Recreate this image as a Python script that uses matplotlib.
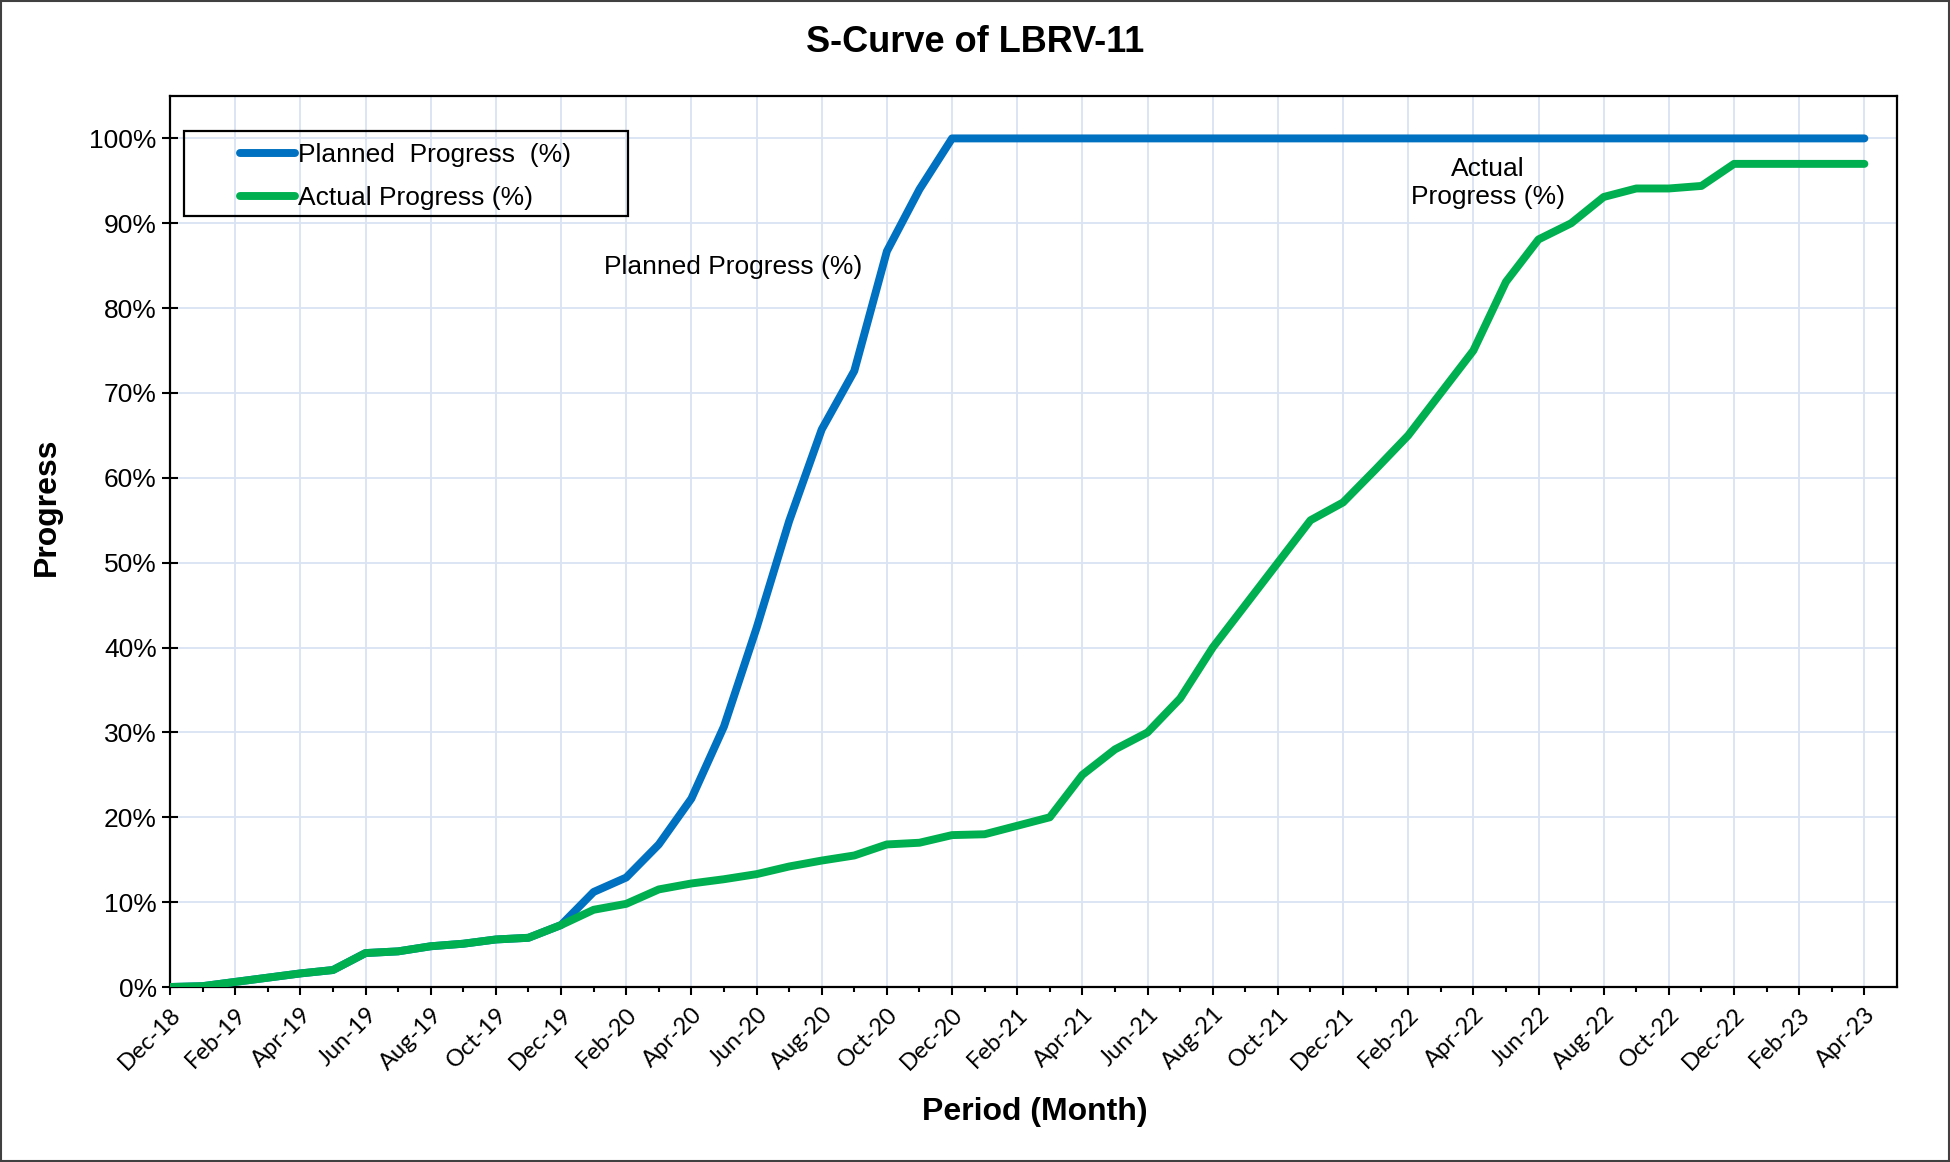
import matplotlib
matplotlib.use("Agg")
import matplotlib.pyplot as plt
from matplotlib.patches import Rectangle
from matplotlib.ticker import MultipleLocator, FixedLocator, PercentFormatter
import numpy as np
import pandas as pd

# monthly periods Dec-18 .. Apr-23
months = pd.date_range("2018-12-01", periods=53, freq="MS").strftime("%b-%y").tolist()

planned = [0.0, 0.1, 0.6, 1.1, 1.6, 2.0, 4.0, 4.2, 4.8, 5.1, 5.6, 5.8, 7.3,
           11.2, 12.9, 16.8, 22.2, 30.7, 42.3, 54.9, 65.7, 72.6, 86.7, 94.0,
           100, 100, 100, 100, 100, 100, 100, 100, 100, 100, 100, 100, 100,
           100, 100, 100, 100, 100, 100, 100, 100, 100, 100, 100, 100, 100,
           100, 100, 100]
actual = [0.0, 0.1, 0.6, 1.1, 1.6, 2.0, 4.0, 4.2, 4.8, 5.1, 5.6, 5.8, 7.3,
          9.1, 9.8, 11.5, 12.2, 12.7, 13.3, 14.2, 14.9, 15.5, 16.8, 17.0,
          17.9, 18.0, 19.0, 20.0, 25.0, 28.0, 30.0, 34.0, 40.0, 45.0, 50.0,
          55.0, 57.1, 61.0, 65.0, 70.0, 75.0, 83.1, 88.1, 90.0, 93.1, 94.1,
          94.1, 94.4, 97.0, 97.0, 97.0, 97.0, 97.0]

BLUE = "#0070C0"
GREEN = "#00B050"
GRID = "#D9E3F3"
FONT = "Liberation Sans"

fig = plt.figure(figsize=(19.5, 11.62), dpi=100)
ax = fig.add_axes([0.0872, 0.1506, 0.8856, 0.7668])

x = np.arange(len(months))
ax.plot(x, planned, color=BLUE, lw=5.7, solid_capstyle="round",
        solid_joinstyle="round", label="Planned  Progress  (%)", zorder=3)
ax.plot(x, actual, color=GREEN, lw=5.7, solid_capstyle="round",
        solid_joinstyle="round", label="Actual Progress (%)", zorder=4)

ax.set_xlim(0, 53)
ax.set_ylim(0, 105)

ax.xaxis.set_major_locator(FixedLocator(x[::2]))
ax.xaxis.set_minor_locator(FixedLocator(x[1::2]))
ax.set_xticklabels(months[::2], rotation=45, ha="right", va="top",
                   rotation_mode="anchor", fontsize=17, family="Lato")
ax.yaxis.set_major_locator(MultipleLocator(10))
ax.yaxis.set_major_formatter(PercentFormatter(decimals=0))
for lab in ax.get_yticklabels():
    lab.set_fontsize(19)
    lab.set_family(FONT)

ax.tick_params(axis="x", which="major", direction="out", length=6, width=1.5, pad=6)
ax.tick_params(axis="x", which="minor", direction="out", length=3.5, width=1.5)
ax.tick_params(axis="y", which="major", direction="inout", length=11, width=1.5, pad=4)

ax.grid(True, which="major", color=GRID, lw=1.3, zorder=0)
ax.set_axisbelow(True)
for s in ax.spines.values():
    s.set_linewidth(1.6)
    s.set_color("black")

fig.text(0.5, 1 - 42 / 1162, "S-Curve of LBRV-11", fontsize=26,
         fontweight="bold", family=FONT, ha="center", va="center")
fig.text(0.5305, 1 - 1112 / 1162, "Period (Month)", fontsize=23,
         fontweight="bold", family=FONT, ha="center", va="center")
fig.text(47 / 1950, 1 - 507 / 1162, "Progress", fontsize=23, rotation=90,
         fontweight="bold", family=FONT, ha="center", va="center")

ax.text(17.28, 84.9, "Planned Progress (%)", fontsize=19,
        family=FONT, ha="center", va="center")
ax.text(40.44, 94.7, "Actual\nProgress (%)", fontsize=19,
        family=FONT, ha="center", va="center", linespacing=1.2)

# legend, framed by a plain box
leg = ax.legend(loc="upper left", frameon=False, prop={"family": FONT, "size": 19},
                handlelength=2.1, handletextpad=0.12, labelspacing=0.74,
                bbox_to_anchor=(216 / 1950, 1 - 119 / 1162),
                bbox_transform=fig.transFigure)
fig.patches.append(Rectangle((184 / 1950, 1 - 216 / 1162), 444 / 1950, 85 / 1162,
                             transform=fig.transFigure, fill=False,
                             edgecolor="black", lw=1.6, zorder=5))

# outer border
fig.patches.append(Rectangle((0.0005, 0.0008), 0.999, 0.9984, transform=fig.transFigure,
                             fill=False, edgecolor="#404040", lw=1.5))

fig.savefig("out.png", dpi=100)
